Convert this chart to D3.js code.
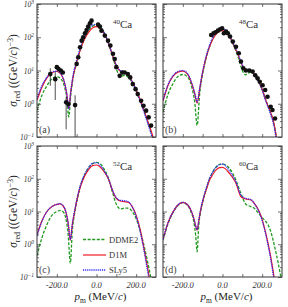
<!DOCTYPE html>
<html>
<head>
<meta charset="utf-8">
<script src="https://cdn.jsdelivr.net/npm/d3@7"></script>
<style>
    body { margin: 0; background: #fff; }
    svg { display: block; font-family: "Liberation Serif", "DejaVu Serif", serif; }
</style>
</head>
<body>
<svg id="chart" width="288" height="307"></svg>
<script>
// ---- data (sigma_red in (GeV/c)^-3, p_m in MeV/c) ----
const yTicks = [0.1, 1, 10, 100, 1000];
const xTicks = [-200, -100, 0, 100, 200];
const xLabels = [-200, 0, 200];

// 40Ca
const pmA = [-300,-275,-250,-225,-200,-175,-160,-150,-140,-130,-120,-100,-80,-60,-40,-20,0,20,40,60,80,100,120,140,160,180,200,220,240,260,280,300];
const ddme2A = [0.63,1.8,3.5,5.6,6.6,5.2,3.0,1.5,0.4,1.78,5.01,16.6,44.7,93.3,158,214,229,200,132,66.1,28.2,11.2,6.61,7.08,6.31,4.27,2.4,1.26,0.6,0.263,0.112,0.045];
const d1mA = [1.26,3.16,6.03,8.51,9.33,7.08,3.98,2.0,0.71,2.24,5.62,17.8,44.7,89.1,141,191,209,182,126,66.1,29.5,14.1,9.55,8.91,7.24,4.68,2.63,1.32,0.63,0.28,0.126,0.05];
const sly5A = [1.41,3.55,6.31,8.91,9.55,7.24,3.98,2.0,0.71,2.24,6.03,20,52.5,107,178,234,245,200,132,67.6,30.2,14.8,10,9.33,7.41,4.57,2.51,1.2,0.55,0.24,0.1,0.04];
const expPmA = [-233,-208,-200,-192,-180,-170,-153,-142,-108,-100,-92,-83,-75,-67,-58,-50,-42,-33,-25,8,17,25,42,58,70,83,92,100,117,130,142,158,170,183,197,208,225,237,250,263,275];
const expA = [7.8,5.5,12.6,11.2,10,8.7,1.1,0.98,0.91,15.8,25,50,79,100,132,166,209,263,316,240,209,158,112,79,56,32,22,12.6,6.9,8.7,8.7,7.8,6.2,3.9,2.75,1.95,1.23,0.87,0.62,0.39,0.22];
const barPmA = [-233,-208,-153,-108];
const barLoA = [3.5,1.3,0.17,0.05];
const barHiA = [11.7,8.9,1.6,1.8];

// 48Ca
const pmB = [-300,-275,-250,-225,-200,-175,-155,-140,-128,-115,-100,-80,-60,-40,-20,0,20,40,60,80,100,115,130,145,160,180,200,220,240,260,280,300];
const ddme2B = [0.56,1.91,3.98,6.61,7.59,6.31,3.16,1.12,0.224,2.0,7.94,26.9,63.1,112,158,174,141,93.3,50.1,24,10,7.41,8.32,8.91,7.41,5.01,2.69,1.2,0.6,0.24,0.05,0.0158];
const d1mB = [1.2,3.55,6.61,8.91,9.55,7.59,3.98,2.0,1.05,2.82,8.91,28.2,63.1,107,148,158,135,93.3,52.5,28.2,14.1,10.5,10,9.55,7.59,5.01,2.69,1.2,0.6,0.25,0.05,0.0158];
const sly5B = [1.26,3.72,6.92,9.33,10,7.94,4.17,2.09,1.12,2.95,9.33,30.2,70.8,123,174,186,151,100,55,29.5,14.8,11,10.5,9.77,7.59,4.9,2.57,1.12,0.537,0.209,0.04,0.0126];
const expPmB = [-57,-45,-35,-23,-12,-2,7,18,27,38,52,68,82,93,105,118,135,152,165,177,188,202,215,227,243,252,265];
const expB = [117,132,141,158,174,186,132,148,132,105,74,52,33,18.6,11.7,10,10,9.3,7.2,5.8,4.6,3.6,2.6,1.62,0.81,0.65,0.36];

// 52Ca
const pmC = [-300,-275,-250,-225,-200,-185,-170,-155,-143,-132,-122,-110,-95,-80,-60,-40,-20,0,20,40,60,80,100,120,140,160,180,200,220,240,260,280,300];
const ddme2C = [0.447,1.58,3.98,7.59,10,10.7,10,6.31,2.0,0.263,2.51,8.91,26.3,63.1,132,214,288,316,282,191,105,39.8,16.6,12,12.6,12.6,10,6.03,2.63,0.891,0.251,0.063,0.0158];
const d1mC = [2.0,5.25,10,14.1,16.6,17,15.1,10,4.47,1.32,3.98,10,28.2,60.3,120,191,251,263,224,158,100,44.7,25.1,20.9,20,19.1,14.1,7.59,2.82,0.708,0.158,0.0316,0.01];
const sly5C = [1.78,5.01,10,14.1,16.6,17.4,15.5,10,4.47,1.41,4.17,10.7,30.2,66.1,135,219,295,309,251,170,100,45.7,26.3,21.9,21.4,20,14.1,7.08,2.51,0.631,0.126,0.025,0.0079];

// 60Ca
const pmD = [-300,-275,-250,-225,-200,-175,-160,-145,-135,-128,-120,-110,-98,-80,-65,-50,-32,-15,0,15,30,50,68,93,118,143,160,177,195,210,227,243,260,280,300];
const ddme2D = [1.32,4.17,9.12,15.1,18.6,15.1,10,5.01,1.78,0.589,3.55,10,21.4,52.5,100,158,229,275,282,263,224,151,89.1,35.5,16.6,14.1,12.6,9.55,7.08,5.62,4.17,2.51,1.0,0.282,0.063];
const d1mD = [1.41,4.47,9.55,15.8,19.1,15.8,11.2,6.31,3.55,2.69,5.01,11.2,22.4,50.1,91.2,132,186,219,224,200,158,112,72.4,28.2,24,22.4,17.8,12.6,7.08,3.47,1.26,0.417,0.1,0.0158,0.0032];
const sly5D = [1.41,4.47,9.55,15.8,19.1,15.8,11.2,6.31,3.55,2.82,5.25,11.7,24,56.2,105,158,224,269,282,251,191,126,79.4,31.6,25.1,23.4,17.8,12,6.61,3.16,1.12,0.355,0.079,0.0126,0.0025];

const series = [
    { key: 'ddme2', name: 'DDME2', color: '#1f9a1f', dash: '3,1.6', width: 1.3 },
    { key: 'd1m',   name: 'D1M',   color: '#ee1c24', dash: null,    width: 1.2 },
    { key: 'sly5',  name: 'SLy5',  color: '#2020ff', dash: '1,0.9', width: 1.3 }
];

const panels = [
    { tag: 'a', nuc: '40', col: 0, row: 0, pm: pmA, ddme2: ddme2A, d1m: d1mA, sly5: sly5A, expPm: expPmA, exp: expA, barPm: barPmA, barLo: barLoA, barHi: barHiA },
    { tag: 'b', nuc: '48', col: 1, row: 0, pm: pmB, ddme2: ddme2B, d1m: d1mB, sly5: sly5B, expPm: expPmB, exp: expB },
    { tag: 'c', nuc: '52', col: 0, row: 1, pm: pmC, ddme2: ddme2C, d1m: d1mC, sly5: sly5C },
    { tag: 'd', nuc: '60', col: 1, row: 1, pm: pmD, ddme2: ddme2D, d1m: d1mD, sly5: sly5D }
];

// ---- layout ----
const cols = [[37, 156], [163, 282]];
const rows = [[4, 137], [146, 277]];
const axisColor = '#333';

const svg = d3.select('#chart');

panels.forEach((p, i) => {
    const [x0, x1] = cols[p.col];
    const [y0, y1] = rows[p.row];

    const x = d3.scaleLinear().domain([-300, 300]).range([x0, x1]);
    const y = d3.scaleLog().domain([0.1, 1000]).range([y1, y0]);

    const g = svg.append('g');

    g.append('clipPath').attr('id', 'clip' + i)
        .append('rect')
        .attr('x', x0).attr('y', y0)
        .attr('width', x1 - x0).attr('height', y1 - y0);

    const plot = g.append('g').attr('clip-path', `url(#clip${i})`);

    const line = d3.line()
        .x(d => x(d[0]))
        .y(d => y(d[1]))
        .curve(d3.curveMonotoneX);

    series.forEach(s => {
        const pts = p.pm.map((v, k) => [v, p[s.key][k]]);
        plot.append('path')
            .attr('d', line(pts))
            .attr('fill', 'none')
            .attr('stroke', s.color)
            .attr('stroke-width', s.width)
            .attr('stroke-dasharray', s.dash);
    });

    // error bars
    if (p.barPm) {
        plot.selectAll('line.err')
            .data(p.barPm.map((v, k) => [v, p.barLo[k], p.barHi[k]]))
            .join('line')
            .attr('class', 'err')
            .attr('x1', d => x(d[0])).attr('x2', d => x(d[0]))
            .attr('y1', d => y(d[1])).attr('y2', d => y(d[2]))
            .attr('stroke', '#222')
            .attr('stroke-width', 0.8);
    }

    // data points
    if (p.expPm) {
        plot.selectAll('circle')
            .data(p.expPm.map((v, k) => [v, p.exp[k]]))
            .join('circle')
            .attr('cx', d => x(d[0]))
            .attr('cy', d => y(d[1]))
            .attr('r', 2.3)
            .attr('fill', '#111');
    }

    // ticks (inside, mirrored)
    const minors = [];
    for (let e = -1; e < 3; e++) for (let m = 2; m < 10; m++) minors.push(m * Math.pow(10, e));

    const tickAxes = [
        [d3.axisBottom(x).tickValues(xTicks).tickSizeInner(-3), `translate(0,${y1})`],
        [d3.axisTop(x).tickValues(xTicks).tickSizeInner(-3), `translate(0,${y0})`],
        [d3.axisLeft(y).tickValues(yTicks).tickSizeInner(-4), `translate(${x0},0)`],
        [d3.axisRight(y).tickValues(yTicks).tickSizeInner(-4), `translate(${x1},0)`],
        [d3.axisLeft(y).tickValues(minors).tickSizeInner(-2), `translate(${x0},0)`],
        [d3.axisRight(y).tickValues(minors).tickSizeInner(-2), `translate(${x1},0)`]
    ];
    tickAxes.forEach(([ax, tr]) => {
        const a = g.append('g')
            .attr('transform', tr)
            .call(ax.tickSizeOuter(0).tickFormat(''));
        a.select('.domain').remove();
        a.selectAll('line').attr('stroke', axisColor).attr('stroke-width', 0.7);
    });

    // frame
    g.append('rect')
        .attr('x', x0).attr('y', y0)
        .attr('width', x1 - x0).attr('height', y1 - y0)
        .attr('fill', 'none')
        .attr('stroke', axisColor)
        .attr('stroke-width', 1);

    // y tick labels on left column
    if (p.col === 0) {
        yTicks.forEach(v => {
            const t = g.append('text')
                .attr('x', x0 - 3)
                .attr('y', y(v) + 3)
                .attr('text-anchor', 'end')
                .attr('font-style', 'italic')
                .attr('font-size', 7.5)
                .attr('fill', '#333');
            t.append('tspan').text('10');
            t.append('tspan')
                .attr('dy', -3)
                .attr('font-size', 5.5)
                .text(String(Math.round(Math.log10(v))).replace('-', '\u2212'));
        });

        const yc = (y0 + y1) / 2;
        const lab = g.append('text')
            .attr('transform', `translate(17,${yc}) rotate(-90)`)
            .attr('text-anchor', 'middle')
            .attr('font-size', 11.5)
            .attr('fill', '#222');
        lab.append('tspan').attr('font-style', 'italic').text('\u03c3');
        lab.append('tspan').attr('font-size', 8).attr('dy', 2.5).text('red');
        lab.append('tspan').attr('dy', -2.5).text(' ((GeV/');
        lab.append('tspan').attr('font-style', 'italic').text('c');
        lab.append('tspan').text(')');
        lab.append('tspan').attr('font-size', 8).attr('dy', -4).text('\u22123');
        lab.append('tspan').attr('dy', 4).text(')');
    }

    // x tick labels and title on bottom row
    if (p.row === 1) {
        xLabels.forEach(v => {
            g.append('text')
                .attr('x', x(v))
                .attr('y', y1 + 11)
                .attr('text-anchor', 'middle')
                .attr('font-style', 'italic')
                .attr('font-size', 8.5)
                .attr('fill', '#333')
                .text(v.toFixed(1));
        });

        const xt = g.append('text')
            .attr('x', (x0 + x1) / 2 + 4)
            .attr('y', y1 + 23)
            .attr('text-anchor', 'middle')
            .attr('font-size', 11)
            .attr('fill', '#222');
        xt.append('tspan').attr('font-style', 'italic').text('p');
        xt.append('tspan').attr('font-size', 7.5).attr('dy', 2.5).text('m');
        xt.append('tspan').attr('dy', -2.5).text(' (MeV/');
        xt.append('tspan').attr('font-style', 'italic').text('c');
        xt.append('tspan').text(')');
    }

    // nucleus label
    const nl = g.append('text')
        .attr('x', x0 + 76)
        .attr('y', y0 + 24)
        .attr('font-size', 11)
        .attr('fill', '#333');
    nl.append('tspan').attr('font-size', 7).attr('dy', -4).text(p.nuc);
    nl.append('tspan').attr('dy', 4).text('Ca');

    // panel tag
    g.append('text')
        .attr('x', x0 + 2)
        .attr('y', y1 - 4)
        .attr('font-size', 10)
        .attr('fill', '#444')
        .text(`(${p.tag})`);

    // legend in panel (c)
    if (p.tag === 'c') {
        const legY = [239.5, 255, 270];
        series.forEach((s, k) => {
            g.append('line')
                .attr('x1', 83).attr('x2', 106)
                .attr('y1', legY[k]).attr('y2', legY[k])
                .attr('stroke', s.color)
                .attr('stroke-width', s.width)
                .attr('stroke-dasharray', s.dash);
            g.append('text')
                .attr('x', 109)
                .attr('y', legY[k] + 3)
                .attr('font-size', 8.5)
                .attr('fill', '#333')
                .text(s.name);
        });
    }
});
</script>
</body>
</html>
